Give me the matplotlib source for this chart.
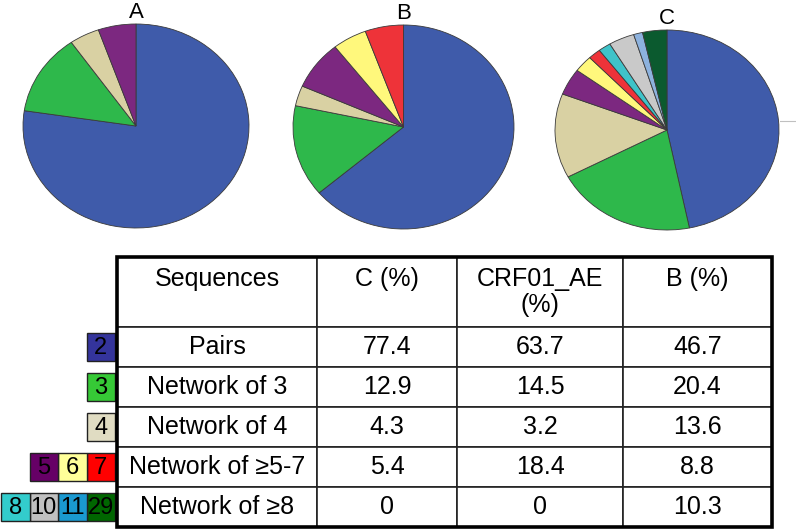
"""
网络规模分布：三个饼图 + 下方百分比表格
"""
import matplotlib

matplotlib.use('Agg')
import matplotlib.pyplot as plt
from matplotlib.patches import Rectangle
from matplotlib.lines import Line2D

plt.rcParams['font.family'] = ['Liberation Sans', 'DejaVu Sans']

# 颜色，按网络大小 2,3,4,5,6,7,8,10,11,29
c2, c3, c4 = '#3f5baa', '#2eb84b', '#d9d1a3'
c5, c6, c7 = '#7c2880', '#fff87c', '#ee3339'
c8, c10, c11, c29 = '#3fc3c9', '#c9c9c9', '#8db2de', '#0b5a2f'

# 饼图数据 (%)
pie_titles = ['A', 'B', 'C']
pie_a_sizes = [77.4, 12.9, 4.3, 5.4]
pie_a_colors = [c2, c3, c4, c5]
pie_b_sizes = [63.7, 14.5, 3.2, 7.8, 5.0, 5.6]
pie_b_colors = [c2, c3, c4, c5, c6, c7]
pie_c_sizes = [46.7, 20.4, 13.6, 4.3, 2.7, 1.8, 1.8, 3.7, 1.3, 3.5]
pie_c_colors = [c2, c3, c4, c5, c6, c7, c8, c10, c11, c29]

# 表格数据
col_labels = ['Sequences\n', 'C (%)\n', 'CRF01_AE\n(%)', 'B (%)\n']
row_labels = ['Pairs', 'Network of 3', 'Network of 4', 'Network of \u22655-7', 'Network of \u22658']
subtype_c = ['77.4', '12.9', '4.3', '5.4', '0']
crf01_ae = ['63.7', '14.5', '3.2', '18.4', '0']
subtype_b = ['46.7', '20.4', '13.6', '8.8', '10.3']

# 左侧图例色块
key_labels = [['2'], ['3'], ['4'], ['5', '6', '7'], ['8', '10', '11', '29']]
key_colors = [['#34349c'], ['#36c936'], ['#e0dcc2'],
              ['#660066', '#ffff99', '#ff0000'],
              ['#33cccc', '#c0c0c0', '#1a99d0', '#006600']]

W, H = 796, 529


def px_box(x, y, w, h):
    # 像素 -> figure 坐标
    return [x / W, 1 - (y + h) / H, w / W, h / H]


fig = plt.figure(figsize=(W / 100, H / 100), dpi=100)

pie_boxes = [(23, 24, 226, 204), (293, 25, 221, 204), (555, 30, 224, 200)]
pie_data = [(pie_a_sizes, pie_a_colors), (pie_b_sizes, pie_b_colors), (pie_c_sizes, pie_c_colors)]
for title, (sizes, colors), box in zip(pie_titles, pie_data, pie_boxes):
    ax = fig.add_axes(px_box(*box))
    ax.pie(sizes, colors=colors, startangle=90, counterclock=False,
           wedgeprops=dict(edgecolor='#3a3a3a', linewidth=0.6))
    ax.set_aspect('auto')  # 原图是椭圆
    ax.set_xlim(-1, 1)
    ax.set_ylim(-1, 1)
    ax.set_title(title, fontsize=16, pad=4)

# 右侧一小段灰线
fig.add_artist(Line2D([780 / W, 1], [1 - 121 / H, 1 - 121 / H], color='#c0c0c0', lw=0.8))

# 表格
tax = fig.add_axes([0, 0, 1, 1])
tax.set_axis_off()
tax.set_xlim(0, W)
tax.set_ylim(H, 0)

tab_x, tab_y, tab_w, tab_h = 117, 257, 655, 270
head_h, row_h = 70, 40
cell_text = [list(r) for r in zip(row_labels, subtype_c, crf01_ae, subtype_b)]
tbl = tax.table(cellText=cell_text, colLabels=col_labels, cellLoc='center',
                colWidths=[200, 140, 166, 149],
                bbox=[tab_x / W, 1 - (tab_y + tab_h) / H, tab_w / W, tab_h / H])
tbl.auto_set_font_size(False)
tbl.set_fontsize(18)
for (r, c), cell in tbl.get_celld().items():
    cell.set_height(head_h if r == 0 else row_h)
    cell.set_linewidth(1.2)
    cell.set_edgecolor('#222222')
    cell.get_text().set_linespacing(1.1)

tax.add_patch(Rectangle((tab_x, tab_y), tab_w, tab_h, fill=False, lw=2.6,
                        ec='black', zorder=10))

# 图例色块，右对齐到表格左边
key_w, key_h = 28.5, 28
for i, (labels, colors) in enumerate(zip(key_labels, key_colors)):
    yc = tab_y + head_h + row_h * i + row_h / 2
    for k, (lab, col) in enumerate(zip(labels[::-1], colors[::-1])):
        x0 = tab_x - 2 - (k + 1) * key_w
        tax.add_patch(Rectangle((x0, yc - key_h / 2), key_w, key_h, fc=col,
                                ec='#222222', lw=1))
        tax.text(x0 + key_w / 2, yc + 1, lab, ha='center', va='center', fontsize=17)

fig.savefig('out.png', dpi=100)
